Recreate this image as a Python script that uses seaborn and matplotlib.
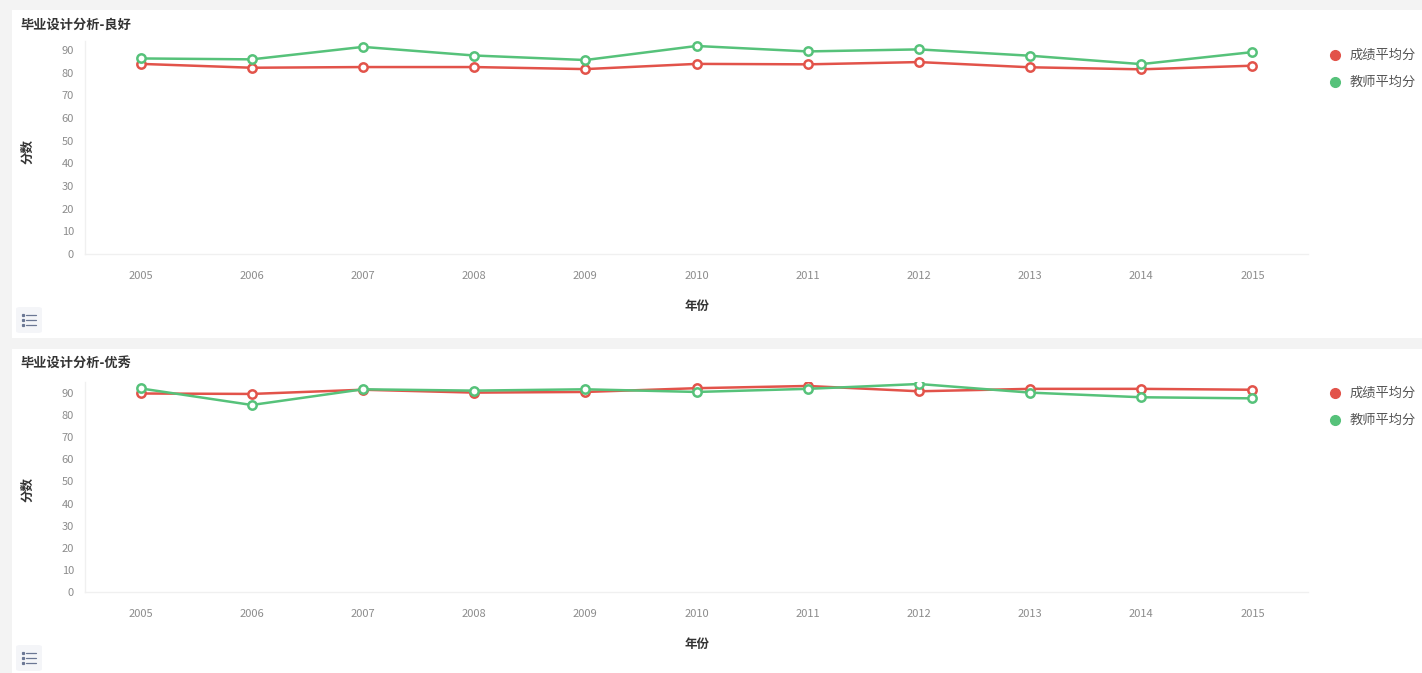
import numpy as np
import pandas as pd
import matplotlib
matplotlib.use("Agg")
import matplotlib.pyplot as plt
from matplotlib.patches import Rectangle, FancyBboxPatch
from matplotlib.lines import Line2D
import seaborn as sns

# data
years = [2005, 2006, 2007, 2008, 2009, 2010, 2011, 2012, 2013, 2014, 2015]
good_score = [83.9, 82.2, 82.5, 82.5, 81.6, 83.9, 83.7, 84.7, 82.4, 81.5, 83.1]
good_teacher = [86.3, 85.9, 91.4, 87.6, 85.6, 91.8, 89.4, 90.3, 87.5, 83.8, 89.1]
best_score = [89.8, 89.6, 91.5, 90.2, 90.5, 92.2, 93.2, 90.8, 91.9, 91.9, 91.5]
best_teacher = [92.1, 84.6, 91.7, 91.1, 91.7, 90.5, 91.9, 94.1, 90.2, 88.1, 87.6]
series_names = ["成绩平均分", "教师平均分"]
titles = ["毕业设计分析-良好", "毕业设计分析-优秀"]
yticks = list(range(0, 100, 10))

RED = "#e2534a"
GREEN = "#56c27a"
colors = [RED, GREEN]

sns.set_theme(style="white")
plt.rcParams["font.family"] = ["Noto Sans CJK SC", "DejaVu Sans"]

W, H = 1422, 673
fig = plt.figure(figsize=(W / 100, H / 100), dpi=100)
fig.patch.set_facecolor("#f3f3f3")

def px(x, y):
    return x / W, 1 - y / H

# white cards
for top, bot in [(10, 338), (349, 673)]:
    x0, y0 = px(12, bot)
    fig.add_artist(Rectangle((x0, y0), 1 - x0, (bot - top) / H,
                             transform=fig.transFigure, facecolor="white",
                             edgecolor="none", zorder=0))

panels = [
    dict(data=[good_score, good_teacher], title=titles[0], zero=254, top=41, ymax=94),
    dict(data=[best_score, best_teacher], title=titles[1], zero=592, top=382, ymax=95),
]
offset = [0, 338]

for i, p in enumerate(panels):
    left, right = 85 / W, 1308 / W
    b = 1 - p["zero"] / H
    h = (p["zero"] - p["top"]) / H
    ax = fig.add_axes([left, b, right - left, h])
    ax.set_facecolor("none")
    for name, vals, c in zip(series_names, p["data"], colors):
        df = pd.DataFrame({"年份": years, "分数": vals})
        sns.lineplot(data=df, x="年份", y="分数", ax=ax, color=c, linewidth=1.8,
                     marker="o", markersize=6, markerfacecolor="white",
                     markeredgecolor=c, markeredgewidth=1.8, label=name, legend=False)
    ax.set_xlim(2004.5, 2015.5)
    ax.set_ylim(0, p["ymax"])
    ax.set_xticks(years)
    ax.set_yticks(yticks)
    ax.tick_params(axis="both", length=0, labelsize=8, labelcolor="#8c8c8c")
    ax.tick_params(axis="x", pad=12)
    ax.tick_params(axis="y", pad=8)
    for s in ["top", "right"]:
        ax.spines[s].set_visible(False)
    for s in ["left", "bottom"]:
        ax.spines[s].set_color("#f0f0f0")
        ax.spines[s].set_linewidth(1)
    ax.set_xlabel("")
    ax.set_ylabel("")

    o = offset[i]
    fig.text(*px(20, 25 + o), p["title"], fontsize=9.5, fontweight="bold",
             color="#333333", va="center", ha="left")
    fig.text(*px(697, 306 + o), "年份", fontsize=9, fontweight="bold",
             color="#333333", va="center", ha="center")
    fig.text(*px(28, 152 + o), "分数", fontsize=9, fontweight="bold",
             color="#333333", va="center", ha="center", rotation=90)

    # legend
    for k, (name, c) in enumerate(zip(series_names, colors)):
        yy = 55 + 27 * k + o
        fig.add_artist(Line2D([1335 / W], [1 - yy / H], marker="o", markersize=7,
                              color=c, linestyle="none", transform=fig.transFigure))
        fig.text(*px(1350, yy), name, fontsize=9.5, color="#555555",
                 va="center", ha="left")

    # small list icon at bottom left
    cx, cy = 29, 320 + o
    x0, y0 = px(cx - 13, cy + 13)
    fig.add_artist(FancyBboxPatch((x0, y0), 26 / W, 26 / H,
                                  boxstyle="round,pad=0,rounding_size=0.003",
                                  transform=fig.transFigure, facecolor="#f4f5f8",
                                  edgecolor="none"))
    for d in (-5, 0, 5):
        fig.add_artist(Line2D([(cx - 6) / W], [1 - (cy + d) / H], marker="s",
                              markersize=1.3, color="#6b7794", linestyle="none",
                              transform=fig.transFigure))
        fig.add_artist(Line2D([(cx - 3) / W, (cx + 7) / W],
                              [1 - (cy + d) / H, 1 - (cy + d) / H],
                              color="#6b7794", linewidth=0.9,
                              transform=fig.transFigure))

fig.savefig("out.png", dpi=100, facecolor=fig.get_facecolor())
